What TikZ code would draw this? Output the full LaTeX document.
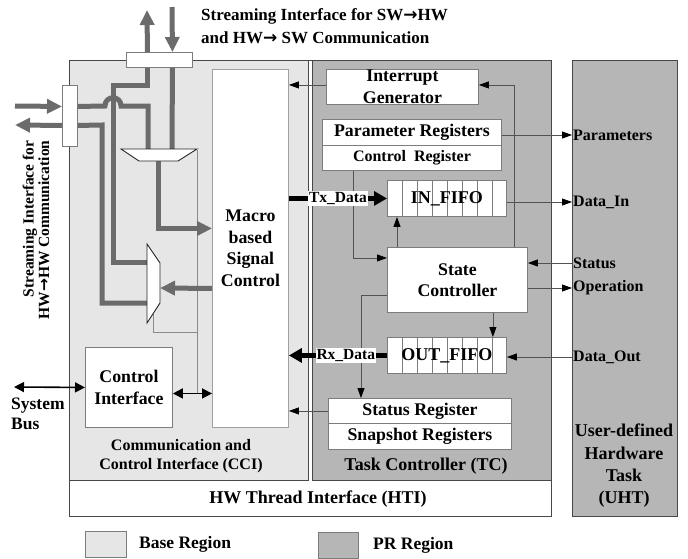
\documentclass[tikz,border=0pt]{standalone}
\usepackage{fontspec}
\setmainfont{Liberation Serif}
\newfontfamily\arrowfont{DejaVu Sans}
\usetikzlibrary{arrows.meta, positioning, calc}
\definecolor{basefill}{HTML}{E6E6E6}
\definecolor{prfill}{HTML}{B6B6B6}
\definecolor{framegray}{HTML}{474747}
\definecolor{boxgray}{HTML}{7C7C7C}
\definecolor{macrogray}{HTML}{A0A0A0}
\definecolor{streamgray}{HTML}{6B6B6B}
\definecolor{wiregray}{HTML}{525252}
\definecolor{selgray}{HTML}{8A8A8A}
\newcommand{\toarrow}{{\arrowfont\bfseries\char"2192}}

\begin{document}
\begin{tikzpicture}[
    x=1pt, y=-1pt,
    region/.style={draw=framegray, line width=1.4pt, anchor=north west, inner sep=0pt},
    block/.style={draw=boxgray, fill=white, line width=0.9pt, anchor=north west, inner sep=0pt, align=center, font=\bfseries\fontsize{17.8}{21.5}\selectfont},
    port/.style={draw=boxgray, fill=white, line width=0.9pt, anchor=north west, inner sep=0pt},
    areatext/.style={inner sep=0pt, align=center, font=\bfseries\fontsize{18}{22.3}\selectfont},
    lbl/.style={inner sep=1pt, anchor=west, font=\bfseries\fontsize{16}{19}\selectfont},
    ctl/.style={draw=wiregray, line width=0.8pt, -{Triangle[length=10pt, width=7pt, color=black]}},
    sel/.style={draw=selgray, line width=0.8pt},
    stream/.style={draw=streamgray, line width=5pt},
    streamarr/.style={stream, -{Triangle[length=15pt, width=14pt]}},
    datalink/.style={draw=black, line width=5pt, -{Triangle[length=13pt, width=14pt]}},
    datalbl/.style={fill=white, inner sep=1pt, font=\bfseries\fontsize{15.5}{18}\selectfont},
    bus/.style={draw=black, line width=1.6pt, {Triangle[length=10pt, width=10pt]}-{Triangle[length=10pt, width=10pt]}},
    mux/.style={draw=black!85, fill=white, line width=0.9pt},
    cell/.style={draw=boxgray, line width=0.7pt},
]
    \useasboundingbox (0,0) rectangle (688,558);

    % Regions
    \node[region, fill=white, minimum width=482pt, minimum height=456pt] (hti) at (69,60) {};
    \node[region, fill=basefill, minimum width=239pt, minimum height=420pt] (cci) at (69,60) {};
    \node[region, fill=prfill, minimum width=239pt, minimum height=420pt] (tc) at (312,60) {};
    \node[region, fill=prfill, minimum width=105pt, minimum height=456pt] (uht) at (572,60) {};

    \node[areatext, font=\bfseries\fontsize{16}{19.3}\selectfont] (ccilbl) at (181,456) {Communication and\\Control Interface (CCI)};
    \node[areatext] (tclbl) at (426,466) {Task Controller (TC)};
    \node[areatext] (htilbl) at (318,499) {HW Thread Interface (HTI)};
    \node[areatext] (uhtlbl) at (624,466) {User-defined\\Hardware\\Task\\(UHT)};

    % Task Controller
    \node[block, minimum width=152pt, minimum height=35pt] (intr) at (326,69) {Interrupt\\Generator};
    \node[block, minimum width=179pt, minimum height=26pt] (param) at (322,119) {Parameter Registers};
    \node[block, minimum width=179pt, minimum height=25pt, font=\bfseries\fontsize{16}{19}\selectfont] (ctrlreg) at (322,145) {Control~~Register};
    \node[block, minimum width=119pt, minimum height=36pt] (infifo) at (387,180) {};
    \node[block, minimum width=140pt, minimum height=65pt] (sc) at (387,247) {State\\Controller};
    \node[block, minimum width=119pt, minimum height=36pt] (outfifo) at (387,337) {};
    \node[block, minimum width=183pt, minimum height=25pt] (statreg) at (328,398) {Status Register};
    \node[block, minimum width=183pt, minimum height=26pt] (snap) at (328,423) {Snapshot Registers};

    \foreach \f/\t in {infifo/IN\_FIFO, outfifo/OUT\_FIFO} {
        \foreach \k in {1,...,7}
            \draw[cell] ($(\f.north west)!\k/8!(\f.north east)$) -- ($(\f.south west)!\k/8!(\f.south east)$);
        \node[inner sep=0pt, font=\bfseries\fontsize{18}{21}\selectfont] (\f-txt) at (\f) {\t};
    }

    % Communication and Control Interface
    \node[block, draw=macrogray, minimum width=76pt, minimum height=358pt] (macro) at (212,69) {Macro\\based\\Signal\\Control};
    \node[block, minimum width=87pt, minimum height=80pt] (ctrlif) at (85,347) {Control\\Interface};
    \node[port, minimum width=66pt, minimum height=15pt] (topbox) at (126,52) {};
    \node[port, minimum width=15pt, minimum height=61pt] (leftbox) at (62,85) {};
    \coordinate (cibus) at ([yshift=-6pt]ctrlif.east);

    % Multiplexer ports
    \coordinate (mux1a) at (148,149);
    \coordinate (mux1b) at (172,149);
    \coordinate (mux1o) at (158,161);
    \coordinate (mux1s) at (197,150);
    \coordinate (mux2a) at (147,262);
    \coordinate (mux2b) at (147,303);
    \coordinate (mux2i) at (160,288);
    \coordinate (mux2s) at (153,314);

    % Streaming end points
    \coordinate (swtx) at (147,10);
    \coordinate (swrx) at (172,7);
    \coordinate (hwrx) at (15,106);
    \coordinate (hwtx) at (15,125);
    \coordinate (busend) at (14,387);

    % Select lines
    \draw[sel] (mux1s) -- (mux1s |- cibus);
    \draw[sel] (mux2s) |- (mux1s |- 0,332);

    % Streaming paths
    \draw[stream] (mux2a) -| (113,85) -| ([xshift=-12pt]topbox.south);
    \draw[stream] ([xshift=13pt]topbox.south) -- (mux1b);
    \draw[stream] ([yshift=9.5pt]leftbox.east) -- (105,106) .. controls (105,95) and (121,95) .. (121,106) -| (mux1a);
    \draw[stream] (mux2b) -| (102,125) -- ([yshift=-9.5pt]leftbox.east);
    \draw[streamarr] (mux1o) |- ([yshift=20pt]macro.west);
    \draw[streamarr] ([yshift=-40pt]macro.west) -- (mux2i);
    \draw[streamarr] ([xshift=-12pt]topbox.north) -- (swtx);
    \draw[streamarr] (swrx) -- ([xshift=13pt]topbox.north);
    \draw[streamarr] (hwrx) -- ([yshift=9.5pt]leftbox.west);
    \draw[streamarr] ([yshift=-9.5pt]leftbox.west) -- (hwtx);

    % Multiplexers
    \draw[mux] (121,149) -- (197,149) -- (178,161) -- (139,161) -- cycle;
    \draw[mux] (147,244) -- (160,263) -- (160,303) -- (147,323) -- cycle;

    % Bus connections
    \draw[bus] (busend) -- (ctrlif.west);
    \draw[bus] (ctrlif.east |- cibus) -- (macro.west |- cibus);

    % Control wires
    \draw[ctl] ([yshift=2pt]intr.west) -- ([yshift=2pt]intr.west -| macro.east);
    \draw[ctl] ([xshift=-14pt]sc.north east) |- ([yshift=2pt]intr.east);
    \draw[ctl] ([xshift=31pt]ctrlreg.south west) |- ([yshift=22pt]sc.west);
    \draw[ctl] ([xshift=10pt]sc.north west) -- ([xshift=10pt]infifo.south west);
    \draw[ctl] ([yshift=-15pt]sc.west) -| ([xshift=33pt]statreg.north west);
    \draw[ctl] ([xshift=-35pt]sc.south east) -- ([xshift=-35pt]sc.south east |- outfifo.north);
    \draw[ctl] (statreg.west) -- (statreg.west -| macro.east);

    % Data paths
    \draw[datalink] (macro.east |- infifo.west) -- (infifo.west) node[datalbl, midway] (txlbl) {Tx\_Data};
    \draw[datalink] (outfifo.west) -- (outfifo.west -| macro.east) node[datalbl, pos=0.42] (rxlbl) {Rx\_Data};

    % Task interface signals
    \node[lbl] (lparam) at (572,135) {Parameters};
    \node[lbl] (ldin) at (572,202) {Data\_In};
    \node[lbl] (lstatus) at (572,263) {Status};
    \node[lbl] (lop) at (572,288) {Operation};
    \node[lbl] (ldout) at (572,357) {Data\_Out};
    \draw[ctl] (param.east |- lparam.west) -- (lparam.west);
    \draw[ctl] (infifo.east |- ldin.west) -- (ldin.west);
    \draw[ctl] (lstatus.west) -- (lstatus.west -| sc.east);
    \draw[ctl] (lop.west -| sc.east) -- (lop.west);
    \draw[ctl] (ldout.west) -- (ldout.west -| outfifo.east);

    % Outer labels
    \node[areatext, anchor=west, align=left, font=\bfseries\fontsize{17}{23}\selectfont] (swtitle) at (201,26) {Streaming Interface for SW\toarrow HW\\and HW\toarrow\ SW Communication};
    \node[areatext, rotate=90, align=right, font=\bfseries\fontsize{15.5}{15.5}\selectfont] (hwtitle) at (36,230) {Streaming Interface for\\HW\toarrow HW Communication};
    \node[areatext, anchor=north west, align=left, font=\bfseries\fontsize{17.5}{20}\selectfont] (buslbl) at (11,398) {System\\Bus};

    % Legend
    \node[region, draw=boxgray, line width=1pt, fill=basefill, minimum width=41pt, minimum height=26pt] (basekey) at (85,531) {};
    \node[lbl, font=\bfseries\fontsize{17.5}{21}\selectfont, right=11pt of basekey] (basetxt) {Base Region};
    \node[region, draw=boxgray, line width=1pt, fill=prfill, minimum width=40pt, minimum height=26pt] (prkey) at (318,532) {};
    \node[lbl, font=\bfseries\fontsize{17.5}{21}\selectfont, right=13pt of prkey] (prtxt) {PR Region};
\end{tikzpicture}
\end{document}
